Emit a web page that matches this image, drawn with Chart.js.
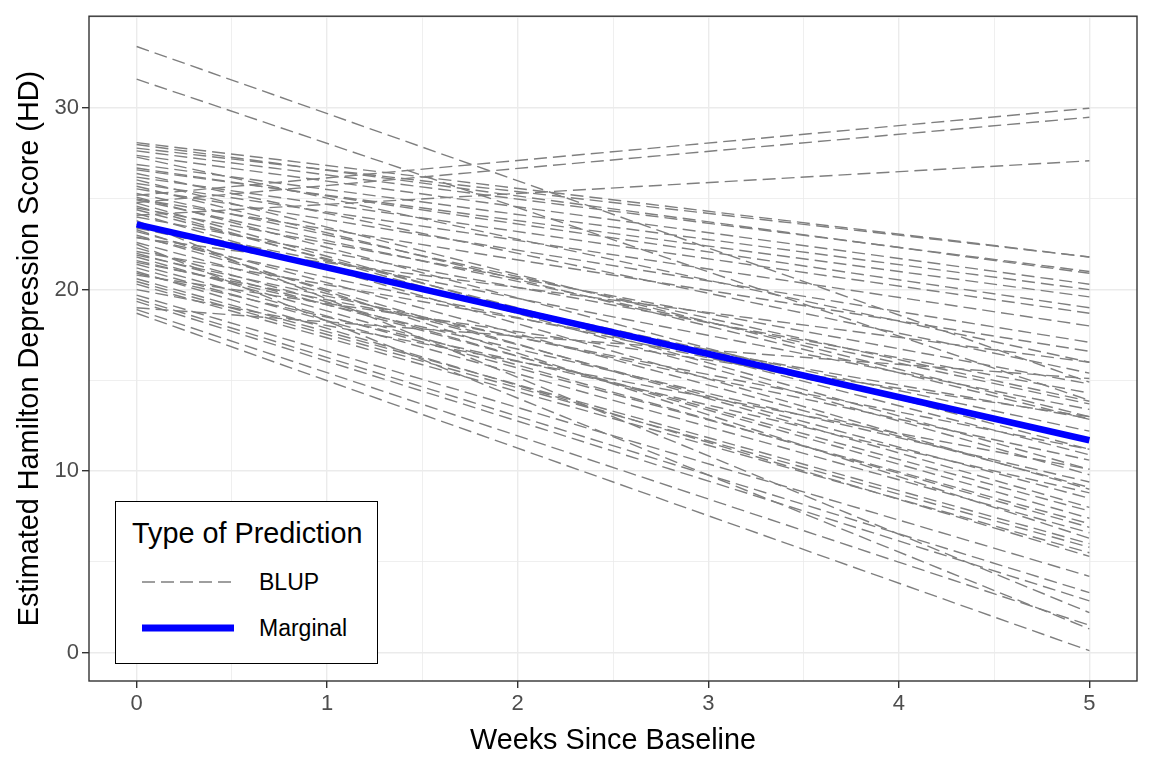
<!DOCTYPE html>
<html>
<head>
<meta charset="utf-8">
<script src="https://cdn.jsdelivr.net/npm/chart.js@4.4.1/dist/chart.umd.min.js"></script>
<style>
  body { margin: 0; background: #fff; }
  #wrap { position: relative; width: 1152px; height: 768px; font-family: "Liberation Sans", Arial, sans-serif; }
  #legend {
    position: absolute; left: 115px; top: 501px; width: 263px; height: 163px;
    box-sizing: border-box; border: 1.6px solid #000; background: #fff;
  }
  #legend .title { position: absolute; left: 16px; top: 13px; font-size: 28.8px; line-height: 36px; color: #000; }
  #legend .item { position: absolute; left: 0; height: 30px; width: 100%; }
  #legend .item svg { position: absolute; left: 26px; top: 0; }
  #legend .item span { position: absolute; left: 143px; top: 2px; font-size: 23px; line-height: 26px; color: #000; }
</style>
</head>
<body>
<div id="wrap">
  <canvas id="chart" width="1152" height="768"></canvas>
  <div id="legend">
    <div class="title">Type of Prediction</div>
    <div class="item" style="top:65px">
      <svg width="92" height="30"><line x1="0" y1="15" x2="92" y2="15" stroke="#7f7f7f" stroke-width="1.5" stroke-dasharray="13 6"/></svg>
      <span>BLUP</span>
    </div>
    <div class="item" style="top:111px">
      <svg width="92" height="30"><line x1="0" y1="15" x2="92" y2="15" stroke="#0000ff" stroke-width="7"/></svg>
      <span>Marginal</span>
    </div>
  </div>
</div>
<script>
// weeks at which each straight prediction line is drawn
const weeks = [0, 5];

// subject-level (BLUP) predictions: value at week 0 and week 5
const blupStart = [33.4, 31.6, 25.2, 24.8, 24.1, 28.1, 27.8, 28.0, 27.65, 27.4,
  27.3, 26.9, 26.7, 26.2, 26.05, 25.85, 25.7, 25.55, 25.3, 25.1,
  24.95, 24.77, 24.6, 24.4, 24.2, 23.2, 23.0, 22.85, 22.6, 22.3,
  22.1, 21.8, 21.4, 21.2, 21.0, 20.8, 20.6, 20.45, 20.3, 19.7,
  19.5, 19.35, 18.9, 18.7, 23.8, 22.5, 21.5, 20.0, 19.0, 24.0,
  26.4, 23.4, 23.6, 22.9, 21.9, 24.5, 20.9, 22.0, 25.0, 23.3,
  21.6, 26.6];
const blupEnd = [14.9, 13.9, 30.0, 29.5, 27.1, 21.8, 21.8, 20.9, 21.0, 20.3,
  16.0, 20.0, 19.0, 18.7, 13.0, 18.0, 12.85, 17.1, 13.85, 11.2,
  13.7, 10.1, 9.8, 10.9, 9.0, 9.1, 8.0, 16.0, 8.5, 7.4,
  12.9, 6.9, 7.1, 6.6, 5.3, 13.0, 6.0, 5.8, 5.5, 4.2,
  3.3, 2.85, 1.5, 0.1, 2.2, 1.3, 11.2, 10.1, 15.1, 14.3,
  15.4, 12.2, 13.4, 11.8, 10.6, 14.8, 8.8, 7.8, 16.6, 6.3,
  9.4, 19.6];

// population-average (marginal) prediction
const marginal = [23.6, 11.7];

const xTicks = [0, 0.5, 1, 1.5, 2, 2.5, 3, 3.5, 4, 4.5, 5];
const yTicks = [0, 5, 10, 15, 20, 25, 30, 35];

const GRID = '#ebebeb';
const isMajorX = v => Number.isInteger(v);
const isMajorY = v => v % 10 === 0;

const datasets = [{
  label: 'Marginal',
  data: weeks.map((w, i) => ({ x: w, y: marginal[i] })),
  borderColor: '#0000ff',
  borderWidth: 6.5,
  pointRadius: 0,
  order: 0
}];
blupStart.forEach((s, k) => {
  const vals = [s, blupEnd[k]];
  datasets.push({
    label: 'BLUP',
    data: weeks.map((w, i) => ({ x: w, y: vals[i] })),
    borderColor: '#7f7f7f',
    borderWidth: 1.4,
    borderDash: [13, 6],
    pointRadius: 0,
    order: 1
  });
});

const panelBorder = {
  id: 'panelBorder',
  afterDraw(chart) {
    const { ctx, chartArea: a } = chart;
    ctx.save();
    ctx.strokeStyle = '#333333';
    ctx.lineWidth = 1.4;
    ctx.strokeRect(a.left, a.top, a.right - a.left, a.bottom - a.top);
    ctx.restore();
  }
};

const tickFont = { family: '"Liberation Sans", Arial, sans-serif', size: 22 };
const titleFont = { family: '"Liberation Sans", Arial, sans-serif', size: 28.8 };

new Chart(document.getElementById('chart'), {
  type: 'line',
  data: { datasets },
  options: {
    responsive: false,
    animation: false,
    layout: { padding: { left: 0, right: 15, top: 15, bottom: 0 } },
    plugins: { legend: { display: false }, tooltip: { enabled: false } },
    scales: {
      x: {
        type: 'linear',
        min: -0.25,
        max: 5.25,
        afterBuildTicks: s => { s.ticks = xTicks.map(v => ({ value: v })); },
        afterFit: s => { s.height = 87; },
        border: { display: false },
        grid: {
          color: GRID,
          lineWidth: c => isMajorX(c.tick.value) ? 1.4 : 0.8,
          tickLength: 7,
          tickColor: c => isMajorX(c.tick.value) ? '#333333' : 'rgba(0,0,0,0)',
          tickWidth: 1.4
        },
        ticks: {
          font: tickFont,
          color: '#4d4d4d',
          padding: 3,
          maxRotation: 0,
          autoSkip: false,
          callback: v => isMajorX(v) ? String(v) : ''
        },
        title: {
          display: true,
          text: 'Weeks Since Baseline',
          font: titleFont,
          color: '#000',
          padding: { top: 0, bottom: 10 }
        }
      },
      y: {
        min: -1.57,
        max: 35.07,
        afterBuildTicks: s => { s.ticks = yTicks.map(v => ({ value: v })); },
        afterFit: s => { s.width = 89; },
        border: { display: false },
        grid: {
          color: GRID,
          lineWidth: c => isMajorY(c.tick.value) ? 1.4 : 0.8,
          tickLength: 7,
          tickColor: c => isMajorY(c.tick.value) ? '#333333' : 'rgba(0,0,0,0)',
          tickWidth: 1.4
        },
        ticks: {
          font: tickFont,
          color: '#4d4d4d',
          padding: 3,
          autoSkip: false,
          callback: v => isMajorY(v) ? String(v) : ''
        },
        title: {
          display: true,
          text: 'Estimated Hamilton Depression Score (HD)',
          font: titleFont,
          color: '#000',
          padding: { top: 13, bottom: 0 }
        }
      }
    }
  },
  plugins: [panelBorder]
});
</script>
</body>
</html>
